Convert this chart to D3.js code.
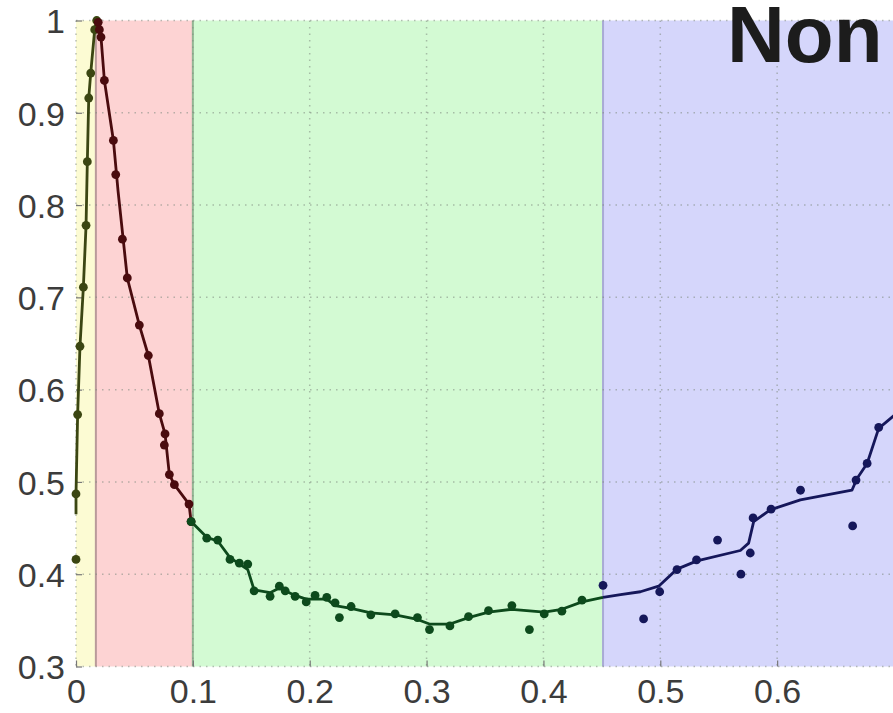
<!DOCTYPE html>
<html>
<head>
<meta charset="utf-8">
<script src="https://cdn.jsdelivr.net/npm/d3@7"></script>
<style>
  body { margin: 0; background: #fff; }
  svg { display: block; }
</style>
</head>
<body>
<svg id="chart_svg" width="893" height="713"></svg>
<script>
// tick values
var xTicks = [0, 0.1, 0.2, 0.3, 0.4, 0.5, 0.6];
var yTicks = [0.3, 0.4, 0.5, 0.6, 0.7, 0.8, 0.9, 1];

// shaded phases (x from, x to)
var phaseNames = ['yellow', 'red', 'green', 'blue'];
var phaseFrom = [0, 0.017, 0.1, 0.451];
var phaseTo = [0.017, 0.1, 0.451, 0.75];

// fitted curve per phase
var yellowFit = [[0, 0.465], [0, 0.487], [0.0014, 0.573], [0.0034, 0.647], [0.0063, 0.711], [0.0086, 0.778],
  [0.0097, 0.847], [0.0109, 0.916], [0.0126, 0.943], [0.016, 0.99], [0.0177, 1.0]];
var redFit = [[0.0177, 1.0], [0.0214, 0.982], [0.0243, 0.935], [0.032, 0.870], [0.036, 0.815], [0.0439, 0.721],
  [0.0542, 0.670], [0.0619, 0.637], [0.0713, 0.574], [0.0762, 0.552], [0.0799, 0.508], [0.0842, 0.497],
  [0.0967, 0.476], [0.0985, 0.457]];
var greenFit = [[0.0985, 0.457], [0.1119, 0.440], [0.1213, 0.436], [0.1318, 0.418], [0.147, 0.405], [0.1524, 0.383],
  [0.1661, 0.380], [0.174, 0.385], [0.1875, 0.377], [0.197, 0.373], [0.2146, 0.373], [0.2217, 0.366],
  [0.2354, 0.363], [0.2523, 0.358], [0.2731, 0.356], [0.2922, 0.351], [0.3025, 0.346], [0.320, 0.346],
  [0.3359, 0.353], [0.353, 0.359], [0.373, 0.362], [0.4007, 0.359], [0.4158, 0.362], [0.433, 0.370], [0.451, 0.375]];
var blueFit = [[0.451, 0.375], [0.466, 0.378], [0.483, 0.381], [0.4986, 0.387], [0.5143, 0.4055], [0.5314, 0.4145],
  [0.5685, 0.4257], [0.5756, 0.4337], [0.5799, 0.457], [0.594, 0.4697], [0.6199, 0.4805], [0.664, 0.491],
  [0.6684, 0.5037], [0.677, 0.520], [0.6869, 0.558], [0.70, 0.572]];

// observed points per phase
var yellowPts = [[0, 0.487], [0, 0.416], [0.0014, 0.573], [0.0034, 0.647], [0.0063, 0.711], [0.0086, 0.778],
  [0.0097, 0.847], [0.0109, 0.916], [0.0126, 0.943], [0.016, 0.99], [0.0177, 1.0]];
var redPts = [[0.019, 0.998], [0.020, 0.99], [0.0214, 0.982], [0.0243, 0.935], [0.032, 0.870], [0.034, 0.833],
  [0.0397, 0.763], [0.0439, 0.721], [0.0542, 0.670], [0.0619, 0.637], [0.0713, 0.574], [0.0762, 0.552],
  [0.0756, 0.540], [0.0799, 0.508], [0.0842, 0.497], [0.0967, 0.476], [0.0985, 0.457]];
var greenPts = [[0.0985, 0.457], [0.1119, 0.439], [0.1213, 0.437], [0.1318, 0.416], [0.1398, 0.412], [0.147, 0.411],
  [0.1524, 0.382], [0.1661, 0.376], [0.174, 0.387], [0.179, 0.382], [0.1875, 0.376], [0.197, 0.370],
  [0.2046, 0.377], [0.2146, 0.375], [0.2217, 0.369], [0.2254, 0.353], [0.2354, 0.365], [0.2523, 0.356],
  [0.2731, 0.357], [0.2922, 0.353], [0.3025, 0.340], [0.320, 0.344], [0.3359, 0.354], [0.353, 0.3605],
  [0.373, 0.366], [0.388, 0.340], [0.4007, 0.357], [0.4158, 0.360], [0.433, 0.372]];
var bluePts = [[0.451, 0.388], [0.4857, 0.3515], [0.4995, 0.381], [0.5143, 0.405], [0.531, 0.4155], [0.549, 0.437],
  [0.569, 0.400], [0.577, 0.423], [0.5794, 0.461], [0.5948, 0.4705], [0.620, 0.491], [0.6646, 0.4523],
  [0.6675, 0.502], [0.677, 0.520], [0.6869, 0.559]];

var titleText = 'Non';

document.addEventListener('DOMContentLoaded', function () {
  drawChart();
});

function drawChart() {
  var margin = { top: 20.5, left: 76 },
    width = 818,
    height = 646;

  var svg = d3.select('#chart_svg');
  var g = svg.append('g').attr('transform', 'translate(' + margin.left + ',' + margin.top + ')');

  var x = d3.scaleLinear().domain([0, 0.7]).range([0, width]);
  var y = d3.scaleLinear().domain([0.3, 1]).range([height, 0]);

  var fill = { yellow: '#fcfbd3', red: '#fdd3d3', green: '#d3fad3', blue: '#d5d6fb' };
  var edge = { yellow: '#d9c9a0', red: '#b99a9a', green: '#93b593', blue: '#a9abd6' };
  var ink = { yellow: '#3b4612', red: '#4a0b0e', green: '#0d4a1c', blue: '#15175a' };

  // background phases
  g.selectAll('rect.phase')
    .data(phaseNames)
    .enter()
    .append('rect')
    .attr('class', 'phase')
    .attr('x', (d, i) => x(phaseFrom[i]))
    .attr('y', 0)
    .attr('width', (d, i) => x(phaseTo[i]) - x(phaseFrom[i]))
    .attr('height', height)
    .style('fill', d => fill[d]);

  g.selectAll('line.edge')
    .data(phaseNames.slice(1))
    .enter()
    .append('line')
    .attr('x1', (d, i) => x(phaseFrom[i + 1]))
    .attr('x2', (d, i) => x(phaseFrom[i + 1]))
    .attr('y1', 0)
    .attr('y2', height)
    .style('stroke', d => edge[d])
    .style('stroke-width', 2);

  // dotted grid, faint like the source
  g.selectAll('line.gx')
    .data(xTicks)
    .enter()
    .append('line')
    .attr('x1', d => x(d)).attr('x2', d => x(d))
    .attr('y1', 0).attr('y2', height)
    .style('stroke', '#7f8a7f')
    .style('stroke-opacity', 0.55)
    .style('stroke-width', 1.5)
    .style('stroke-dasharray', '1.5,5');

  g.selectAll('line.gy')
    .data(yTicks)
    .enter()
    .append('line')
    .attr('x1', 0).attr('x2', width)
    .attr('y1', d => y(d)).attr('y2', d => y(d))
    .style('stroke', '#7f8a7f')
    .style('stroke-opacity', 0.55)
    .style('stroke-width', 1.5)
    .style('stroke-dasharray', '1.5,5');

  // axes
  var xAxis = g.append('g')
    .attr('transform', 'translate(0,' + height + ')')
    .call(d3.axisBottom(x).tickValues(xTicks).tickSize(-6).tickPadding(12).tickFormat(d3.format('')));
  var yAxis = g.append('g')
    .call(d3.axisLeft(y).tickValues(yTicks).tickSize(-6).tickPadding(11).tickFormat(d3.format('')));

  [xAxis, yAxis].forEach(function (a) {
    a.select('.domain').remove();
    a.selectAll('.tick line').style('stroke', '#777').style('stroke-width', 1.2);
    a.selectAll('.tick text')
      .style('font-family', '"Liberation Sans", Arial, sans-serif')
      .style('font-size', '34px')
      .style('fill', '#3c3c3c');
  });
  xAxis.selectAll('.tick text').attr('dy', '0.72em');
  yAxis.selectAll('.tick text').attr('dy', '0.36em');

  // fitted curves and observations
  var line = d3.line().x(d => x(d[0])).y(d => y(d[1]));
  var series = [
    { name: 'yellow', fit: yellowFit, pts: yellowPts },
    { name: 'red', fit: redFit, pts: redPts },
    { name: 'green', fit: greenFit, pts: greenPts },
    { name: 'blue', fit: blueFit, pts: bluePts }
  ];

  g.selectAll('path.fit')
    .data(series)
    .enter()
    .append('path')
    .attr('d', d => line(d.fit))
    .style('fill', 'none')
    .style('stroke', d => ink[d.name])
    .style('stroke-width', 2.8)
    .style('stroke-linejoin', 'round');

  series.forEach(function (s) {
    g.selectAll('circle.' + s.name)
      .data(s.pts)
      .enter()
      .append('circle')
      .attr('cx', d => x(d[0]))
      .attr('cy', d => y(d[1]))
      .attr('r', 4.4)
      .style('fill', ink[s.name]);
  });

  // title in the top right corner
  svg.append('text')
    .attr('x', 727)
    .attr('y', 62)
    .text(titleText)
    .style('font-family', '"Liberation Sans", Arial, sans-serif')
    .style('font-weight', 'bold')
    .style('font-size', '80px')
    .style('fill', '#1c1c1c');
}
</script>
</body>
</html>
